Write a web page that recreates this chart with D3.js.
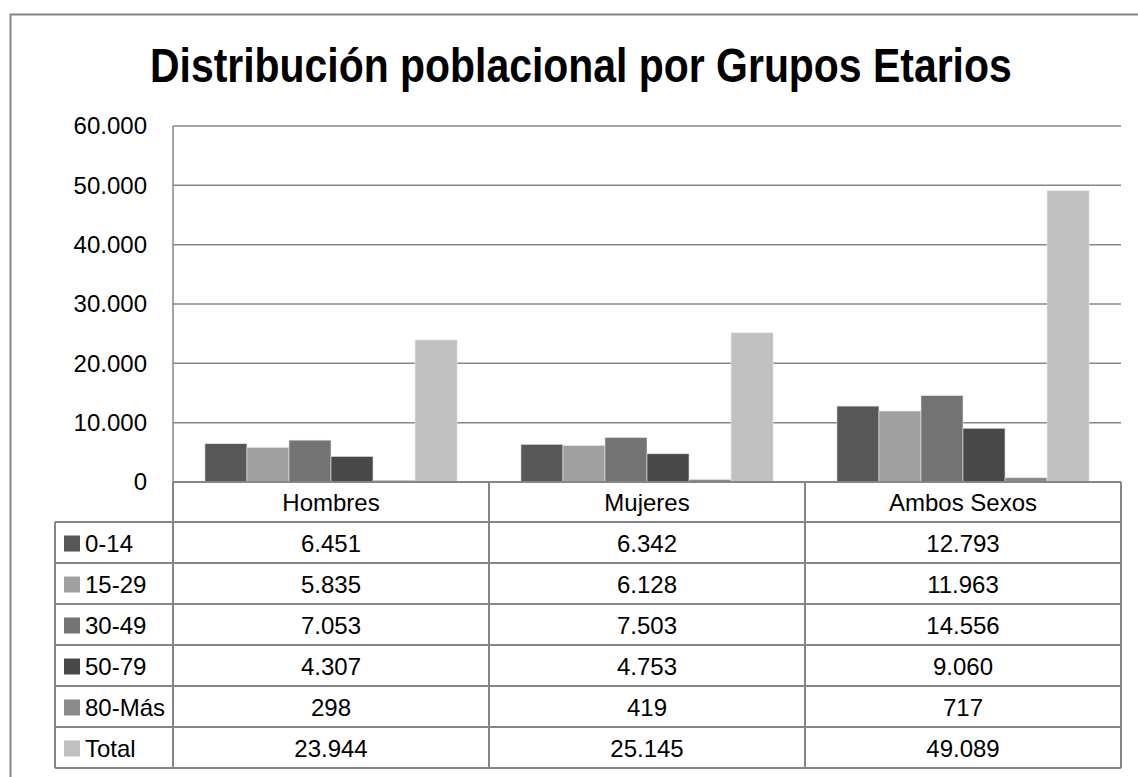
<!DOCTYPE html>
<meta charset="utf-8">
<style>
body { margin: 0; background: #fff; }
text { font-family: "Liberation Sans", Arial, sans-serif; fill: #000; }
.title { font-family: "Liberation Sans Narrow", "Arial Narrow", "Liberation Sans", sans-serif; font-weight: bold; }
.grid line { stroke: #868686; stroke-width: 1.5px; }
.tbl line { stroke: #868686; stroke-width: 2px; }
</style>
<body>
<script src="https://cdnjs.cloudflare.com/ajax/libs/d3/7.8.5/d3.min.js"></script>
<script>

// data
var categories = ["Hombres", "Mujeres", "Ambos Sexos"];
var groups = ["0-14", "15-29", "30-49", "50-79", "80-Más", "Total"];
var v0_14  = [6451, 6342, 12793];
var v15_29 = [5835, 6128, 11963];
var v30_49 = [7053, 7503, 14556];
var v50_79 = [4307, 4753, 9060];
var v80mas = [298, 419, 717];
var vTotal = [23944, 25145, 49089];
var yTicks = [0, 10000, 20000, 30000, 40000, 50000, 60000];

var series = [v0_14, v15_29, v30_49, v50_79, v80mas, vTotal];
var colors = ["#575757", "#a0a0a0", "#737373", "#484848", "#8a8a8a", "#c0c0c0"];

var W = 1138, H = 777;
var plot = {left: 173, right: 1121, top: 126, bottom: 482};
var tableLeft = 55, headerH = 40, rowH = 41;

var locale = d3.formatLocale({decimal: ",", thousands: ".", grouping: [3], currency: ["", ""]});
var fmt = locale.format(",d");

var svg = d3.select("body").append("svg")
    .attr("width", W)
    .attr("height", H);

// outer chart border
svg.append("path")
    .attr("d", "M10.5," + H + "V14.5H" + W)
    .attr("fill", "none")
    .attr("stroke", "#868686")
    .attr("stroke-width", 2);

// title, squeezed horizontally to the narrow look of the original
var title = svg.append("text")
    .attr("class", "title")
    .style("font-size", "48px")
    .text("Distribución poblacional por Grupos Etarios");
var tw = title.node().getComputedTextLength();
var sx = Math.min(1, 862 / tw);
title.attr("transform", "translate(150,82) scale(" + sx + ",1)");

// scales
var x0 = d3.scaleBand().domain(categories).range([plot.left, plot.right]);
var x1 = d3.scaleBand().domain(groups).range([0, x0.bandwidth()]).paddingOuter(0.76);
var y = d3.scaleLinear().domain([0, 60000]).range([plot.bottom, plot.top]);

// gridlines
var grid = svg.append("g").attr("class", "grid");
grid.selectAll("line")
    .data(yTicks)
  .enter().append("line")
    .attr("x1", plot.left)
    .attr("x2", plot.right)
    .attr("y1", function(d) { return y(d); })
    .attr("y2", function(d) { return y(d); });
grid.append("line")
    .attr("x1", plot.left).attr("x2", plot.left)
    .attr("y1", plot.top).attr("y2", plot.bottom);

// y axis labels
var yAxis = svg.append("g")
    .attr("transform", "translate(" + plot.left + ",0)")
    .call(d3.axisLeft(y).tickValues(yTicks).tickFormat(fmt).tickSize(0).tickPadding(26));
yAxis.select(".domain").remove();
yAxis.selectAll("text")
    .style("font-size", "24px")
    .style("font-family", "'Liberation Sans', Arial, sans-serif")
    .attr("fill", "#000");

// bars
var barData = [];
series.forEach(function(vals, gi) {
  vals.forEach(function(v, ci) {
    barData.push({cat: categories[ci], grp: groups[gi], value: v, gi: gi});
  });
});

svg.append("g").selectAll("rect")
    .data(barData)
  .enter().append("rect")
    .attr("x", function(d) { return x0(d.cat) + x1(d.grp); })
    .attr("y", function(d) { return y(d.value); })
    .attr("width", x1.bandwidth())
    .attr("height", function(d) { return plot.bottom - y(d.value); })
    .attr("fill", function(d) { return colors[d.gi]; })
    .attr("stroke", "#e6e6e6")
    .attr("stroke-width", 0.6);

// data table
var tbl = svg.append("g").attr("class", "tbl");
var tableTop = plot.bottom + headerH;
var tableBottom = tableTop + groups.length * rowH;

// horizontal lines
tbl.append("line")
    .attr("x1", plot.left).attr("x2", plot.right)
    .attr("y1", plot.bottom).attr("y2", plot.bottom);
d3.range(groups.length + 1).forEach(function(i) {
  tbl.append("line")
      .attr("x1", tableLeft).attr("x2", plot.right)
      .attr("y1", tableTop + i * rowH).attr("y2", tableTop + i * rowH);
});
// vertical lines
tbl.append("line")
    .attr("x1", tableLeft).attr("x2", tableLeft)
    .attr("y1", tableTop).attr("y2", tableBottom);
[plot.left].concat(categories.map(function(c) { return x0(c) + x0.bandwidth(); })).forEach(function(xv) {
  tbl.append("line")
      .attr("x1", xv).attr("x2", xv)
      .attr("y1", plot.bottom).attr("y2", tableBottom);
});

// header labels
svg.append("g").selectAll("text")
    .data(categories)
  .enter().append("text")
    .attr("x", function(d) { return x0(d) + x0.bandwidth() / 2; })
    .attr("y", plot.bottom + headerH / 2 + 9)
    .attr("text-anchor", "middle")
    .style("font-size", "24px")
    .text(function(d) { return d; });

// legend keys and labels
var rows = svg.append("g").selectAll("g")
    .data(groups)
  .enter().append("g")
    .attr("transform", function(d, i) { return "translate(0," + (tableTop + i * rowH) + ")"; });
rows.append("rect")
    .attr("x", 64)
    .attr("y", rowH / 2 - 7)
    .attr("width", 16)
    .attr("height", 16)
    .attr("fill", function(d, i) { return colors[i]; });
rows.append("text")
    .attr("x", 85)
    .attr("y", rowH / 2 + 9)
    .style("font-size", "24px")
    .text(function(d) { return d; });

// cell values
rows.each(function(g, gi) {
  d3.select(this).selectAll("text.val")
      .data(series[gi])
    .enter().append("text")
      .attr("class", "val")
      .attr("x", function(d, ci) { return x0(categories[ci]) + x0.bandwidth() / 2; })
      .attr("y", rowH / 2 + 9)
      .attr("text-anchor", "middle")
      .style("font-size", "24px")
      .text(function(d) { return fmt(d); });
});

</script>
</body>
